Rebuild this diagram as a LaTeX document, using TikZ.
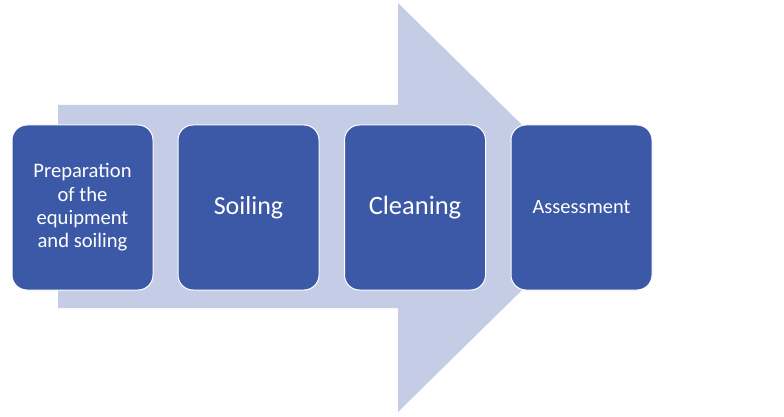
\documentclass[tikz,border=0pt]{standalone}
\usepackage{fontspec}
\setmainfont{Carlito}
\definecolor{stepblue}{RGB}{59,89,167}
\definecolor{arrowblue}{RGB}{197,204,230}
\tikzset{
  stepbox/.style={draw=white, line width=1pt, fill=stepblue, rounded corners=15pt,
    minimum width=141pt, minimum height=165pt, inner sep=0pt, text=white, align=center}
}
\begin{document}
\begin{tikzpicture}[x=1pt,y=-1pt]
  \useasboundingbox (0,0) rectangle (784,417);
  \fill[arrowblue] (58,105) -- (398,105) -- (398,3) -- (606,207.5) -- (398,412) -- (398,308) -- (58,308) -- cycle;
  \node[stepbox, font=\fontsize{20.6}{23.3}\selectfont] (prep) at (82.5,207.5) {Preparation\\of the\\equipment\\and soiling};
  \node[stepbox, font=\fontsize{26}{30}\selectfont] (soil) at (248.5,207.5) {Soiling};
  \node[stepbox, font=\fontsize{26.5}{30}\selectfont] (clean) at (415,207.5) {Cleaning};
  \node[stepbox, font=\fontsize{20.4}{23}\selectfont] (assess) at (581.5,207.5) {Assessment};
\end{tikzpicture}
\end{document}
